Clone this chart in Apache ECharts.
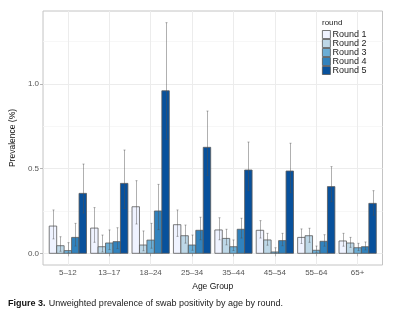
<!DOCTYPE html>
<html><head><meta charset="utf-8">
<script src="https://cdn.jsdelivr.net/npm/echarts@6/dist/echarts.min.js"></script>
<style>html,body{margin:0;padding:0;background:#fff}#c{width:399px;height:321px}</style>
</head><body><div id="c"></div>
<script>
const categories = ['5\u201312','13\u201317','18\u201324','25\u201334','35\u201344','45\u201354','55\u201364','65+'];
const roundNames = ['Round 1','Round 2','Round 3','Round 4','Round 5'];
const round1 = [0.161, 0.149, 0.275, 0.169, 0.138, 0.136, 0.094, 0.073];
const round2 = [0.045, 0.039, 0.049, 0.104, 0.088, 0.079, 0.104, 0.061];
const round3 = [0.016, 0.061, 0.078, 0.049, 0.039, 0.008, 0.018, 0.033];
const round4 = [0.094, 0.069, 0.250, 0.136, 0.142, 0.075, 0.071, 0.039];
const round5 = [0.354, 0.413, 0.960, 0.626, 0.492, 0.486, 0.394, 0.295];
const upper1 = [0.256, 0.270, 0.429, 0.256, 0.210, 0.193, 0.144, 0.118];
const upper2 = [0.098, 0.108, 0.132, 0.167, 0.142, 0.118, 0.148, 0.094];
const upper3 = [0.063, 0.138, 0.177, 0.108, 0.079, 0.033, 0.043, 0.059];
const upper4 = [0.177, 0.151, 0.407, 0.213, 0.207, 0.118, 0.110, 0.067];
const upper5 = [0.527, 0.610, 1.362, 0.840, 0.657, 0.650, 0.512, 0.370];
const lower1 = [0.085, 0.065, 0.173, 0.100, 0.080, 0.090, 0.058, 0.042];
const lower2 = [0.012, 0.008, 0.015, 0.060, 0.050, 0.048, 0.065, 0.035];
const lower3 = [0.002, 0.022, 0.030, 0.018, 0.016, 0.001, 0.004, 0.016];
const lower4 = [0.043, 0.028, 0.140, 0.080, 0.090, 0.045, 0.042, 0.020];
const lower5 = [0.238, 0.265, 0.673, 0.460, 0.370, 0.358, 0.305, 0.225];
const yTicks = [0, 0.5, 1.0];
const yMinorTicks = [0.25, 0.75, 1.25];

const values = [round1, round2, round3, round4, round5];
const uppers = [upper1, upper2, upper3, upper4, upper5];
const lowers = [lower1, lower2, lower3, lower4, lower5];
const colors = ['#eff3ff', '#bdd7e7', '#6baed6', '#3182bd', '#08519c'];
const offsets = [-0.36, -0.18, 0, 0.18, 0.36];
const halfW = 0.09;
const catPos = categories.map((c, i) => i + 1);
const FONT = 'Liberation Sans, Arial, sans-serif';

const chart = echarts.init(document.getElementById('c'), null, {renderer: 'canvas'});

const series = roundNames.map((name, k) => ({
  type: 'custom',
  name: name,
  xAxisIndex: 0, yAxisIndex: 0,
  itemStyle: {color: colors[k], borderColor: '#555', borderWidth: 0.8},
  data: categories.map((c, i) => [catPos[i], values[k][i], uppers[k][i], lowers[k][i]]),
  encode: {x: 0, y: 1},
  renderItem: function (params, api) {
    const x = api.value(0) + offsets[k];
    const p0 = api.coord([x - halfW, api.value(1)]);
    const p1 = api.coord([x + halfW, 0]);
    const t = api.coord([x, api.value(2)]);
    const b = api.coord([x, api.value(3)]);
    const ex = Math.round(t[0]) + 0.5;
    return {
      type: 'group',
      children: [
        {type: 'rect', shape: {x: p0[0], y: p0[1], width: p1[0] - p0[0], height: p1[1] - p0[1]},
         style: {fill: colors[k], stroke: '#5a5a5a', lineWidth: 0.8}},
        {type: 'line', shape: {x1: ex, y1: t[1], x2: ex, y2: b[1]},
         style: {stroke: 'rgba(80,80,80,0.45)', lineWidth: 1}},
        {type: 'line', shape: {x1: ex - 1, y1: t[1], x2: ex + 1, y2: t[1]},
         style: {stroke: 'rgba(80,80,80,0.45)', lineWidth: 1}},
        {type: 'line', shape: {x1: ex - 1, y1: b[1], x2: ex + 1, y2: b[1]},
         style: {stroke: 'rgba(80,80,80,0.45)', lineWidth: 1}}
      ]
    };
  }
}));

chart.setOption({
  animation: false,
  backgroundColor: '#fff',
  textStyle: {fontFamily: FONT},
  grid: {left: 32.5, right: 16.5, top: 11, bottom: 56, show: true, borderColor: '#c4c4c4', borderWidth: 1, backgroundColor: 'transparent'},
  xAxis: {
    type: 'value', min: 0.4, max: 8.6,
    axisLine: {show: false},
    axisTick: {show: true, length: 3, lineStyle: {color: '#b3b3b3'}, customValues: catPos},
    axisLabel: {customValues: catPos, formatter: v => categories[Math.round(v) - 1], fontSize: 8, color: '#555', margin: 4, fontFamily: FONT},
    splitLine: {show: true, lineStyle: {color: '#ececec', width: 1}},
    name: 'Age Group', nameLocation: 'middle', nameGap: 13,
    nameTextStyle: {fontSize: 8.5, color: '#111', fontFamily: FONT}
  },
  yAxis: [{
    type: 'value', min: -0.069, max: 1.431,
    axisLine: {show: false},
    axisTick: {show: true, length: 3, lineStyle: {color: '#b3b3b3'}, customValues: yTicks},
    axisLabel: {customValues: yTicks, formatter: v => v.toFixed(1), fontSize: 8, color: '#555', margin: 4, fontFamily: FONT},
    splitLine: {show: true, lineStyle: {color: '#ececec', width: 1}},
    name: 'Prevalence (%)', nameLocation: 'middle', nameGap: 19, nameRotate: 90,
    nameTextStyle: {fontSize: 8.5, color: '#111', fontFamily: FONT}
  }, {
    type: 'value', min: -0.069, max: 1.431, position: 'left',
    axisLine: {show: false}, axisTick: {show: false, customValues: yMinorTicks},
    axisLabel: {show: false, customValues: yMinorTicks},
    splitLine: {show: true, lineStyle: {color: '#f5f5f5', width: 0.8}}
  }],
  legend: {
    orient: 'vertical', left: 322, top: 30, padding: 0,
    itemWidth: 8, itemHeight: 8, itemGap: 0,
    textStyle: {fontSize: 9, color: '#222', fontFamily: FONT, lineHeight: 8, padding: [0, 0, 0, -3]},
    data: roundNames.map((n, k) => ({name: n, icon: 'rect', itemStyle: {color: colors[k], borderColor: '#555', borderWidth: 0.8}}))
  },
  graphic: [
    {type: 'text', left: 322, top: 19, style: {text: 'round', font: '8px ' + FONT, fill: '#222'}},
    {type: 'text', left: 8, top: 298, style: {
      rich: {b: {fontWeight: 'bold', fontSize: 9, fontFamily: FONT, fill: '#111'}, n: {fontSize: 9, fontFamily: FONT, fill: '#222'}},
      text: '{b|Figure 3.} {n|Unweighted prevalence of swab positivity by age by round.}'
    }}
  ],
  series: series
});
</script></body></html>
